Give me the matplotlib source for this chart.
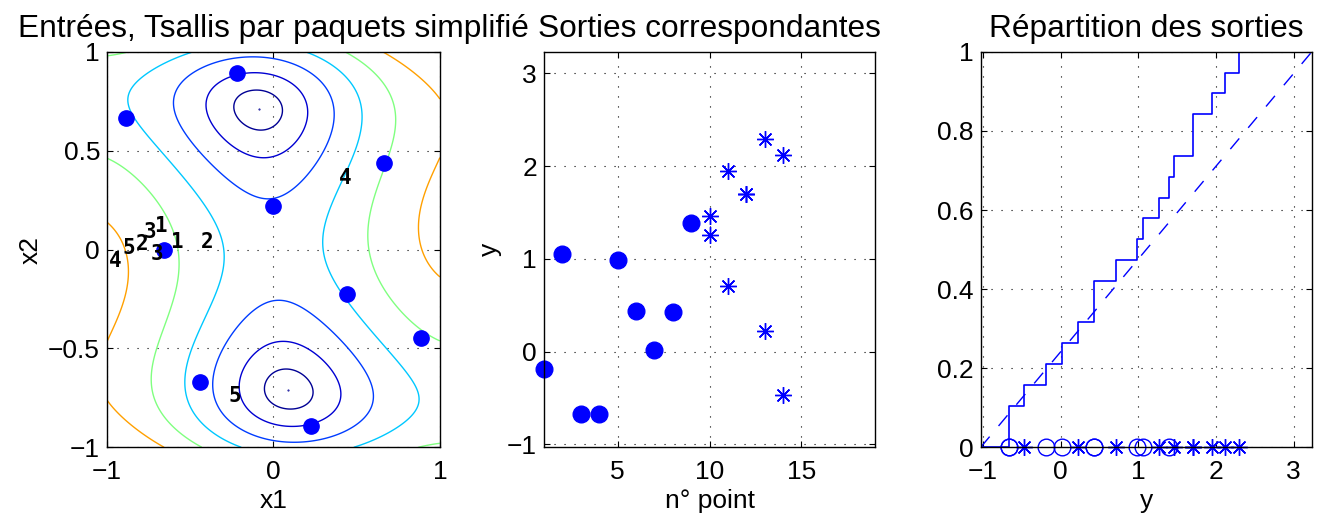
import numpy as np
import matplotlib.pyplot as plt

plt.rcParams['font.family'] = ['Liberation Sans', 'DejaVu Sans']
plt.rcParams['font.size'] = 19

# points d'entree (plan d'experience) et sorties
x1_pts = [-0.221, -0.887, 0.664, 0.0, -0.66, 0.443, 0.885, -0.442, 0.224]
x2_pts = [0.891, 0.663, 0.440, 0.221, 0.0, -0.224, -0.446, -0.668, -0.890]
y_init = [-0.188, 1.054, -0.669, -0.669, 0.985, 0.433, 0.019, 0.424, 1.392]

# points ajoutes par paquets (numero, sortie)
n_ajout = [10, 10, 11, 11, 12, 12, 13, 13, 14, 14]
y_ajout = [1.46, 1.26, 1.95, 0.71, 1.70, 1.70, 2.29, 0.22, 2.12, -0.47]

# etiquettes des paquets sur le plan
lab_txt = ['1', '1', '2', '2', '3', '3', '4', '4', '5', '5']
lab_x = [-0.68, -0.58, -0.40, -0.79, -0.74, -0.70, 0.43, -0.95, -0.87, -0.23]
lab_y = [0.12, 0.04, 0.04, 0.03, 0.09, -0.02, 0.36, -0.06, 0.01, -0.74]

niveaux = [-0.95, -0.69, -0.25, 0.34, 1.10, 2.02]
couleurs = ['#000094', '#0000d2', '#003cff', '#00c8ff', '#80ff80', '#ffa000']

fmin, fmax = -1.0316, 3.2333
etoile = (8, 2, 0)
grille = (0, (1, 8))

def camel(x, y):
    return (4 - 2.1*x**2 + x**4/3)*x**2 + x*y + (-4 + 4*y**2)*y**2

fig = plt.figure(figsize=(13.21, 5.21), dpi=100)
ax1 = fig.add_axes([0.081, 0.1415, 0.252, 0.759])
ax2 = fig.add_axes([0.4118, 0.1415, 0.2506, 0.759])
ax3 = fig.add_axes([0.7424, 0.1415, 0.2506, 0.759])

for ax in (ax1, ax2, ax3):
    ax.grid(True, linestyle=grille, color='k', linewidth=0.8)
    ax.tick_params(direction='in', top=True, right=True, length=4, width=0.8)
    ax.tick_params(axis='x', pad=9)
    ax.tick_params(axis='y', pad=5)
    for s in ax.spines.values():
        s.set_linewidth(1.0)

# panneau 1
g = np.linspace(-1, 1, 300)
X, Y = np.meshgrid(g, g)
ax1.contour(X, Y, camel(X, Y), levels=niveaux, colors=couleurs, linewidths=1.0)
ax1.plot([-0.0898, 0.0898], [0.7126, -0.7126], '.', color='#000094', markersize=1)
ax1.plot(x1_pts, x2_pts, 'o', color='b', markersize=11)
for t, a, b in zip(lab_txt, lab_x, lab_y):
    ax1.text(a, b, t, family='DejaVu Sans Mono', weight='bold', fontsize=15,
             ha='center', va='center')
ax1.set_xlim(-1, 1)
ax1.set_ylim(-1, 1)
ax1.set_xticks([-1, 0, 1])
ax1.set_xticklabels(['\u22121', '0', '1'])
ax1.set_yticks([-1, -0.5, 0, 0.5, 1])
ax1.set_yticklabels(['\u22121', '\u22120.5', '0', '0.5', '1'])
ax1.set_xlabel('x1')
ax1.set_ylabel('x2')
ax1.set_title('Entrées, Tsallis par paquets simplifié', pad=11)

# panneau 2
n_init = np.arange(1, len(y_init) + 1)
ax2.plot(n_init, y_init, 'o', color='b', markersize=12, clip_on=False)
ax2.plot(n_ajout, y_ajout, color='b', linestyle='none', marker=etoile,
         markersize=12, markeredgewidth=1)
ax2.set_xlim(1, 19)
ax2.set_ylim(fmin, fmax)
ax2.set_xticks([5, 10, 15])
ax2.set_yticks([-1, 0, 1, 2, 3])
ax2.set_xlabel('n° point')
ax2.set_ylabel('y')
ax2.set_title('Sorties correspondantes', pad=11)

# panneau 3
tous = np.sort(np.array(y_init + y_ajout))
nb = len(tous)
xs = np.concatenate([[fmin], tous, [fmax]])
ys = np.concatenate([[0], np.arange(1, nb + 1)/nb, [1]])
ax3.step(xs, ys, where='post', color='b', linewidth=1.2)
ax3.plot([fmin, fmax], [0, 1], '--', color='b', linewidth=1.0, dashes=(10, 10))
ax3.plot(y_init, np.zeros(len(y_init)), 'o', color='b', markerfacecolor='none',
         markersize=12, clip_on=False)
ax3.plot(y_ajout, np.zeros(len(y_ajout)), color='b', linestyle='none',
         marker=etoile, markersize=12, clip_on=False)
ax3.set_xlim(fmin, fmax)
ax3.set_ylim(0, 1)
ax3.set_xticks([-1, 0, 1, 2, 3])
ax3.set_yticks([0, 0.2, 0.4, 0.6, 0.8, 1])
ax3.set_yticklabels(['0', '0.2', '0.4', '0.6', '0.8', '1'])
ax3.set_xlabel('y')
ax3.set_title('Répartition des sorties', pad=11)

fig.savefig('out.png', dpi=100)
